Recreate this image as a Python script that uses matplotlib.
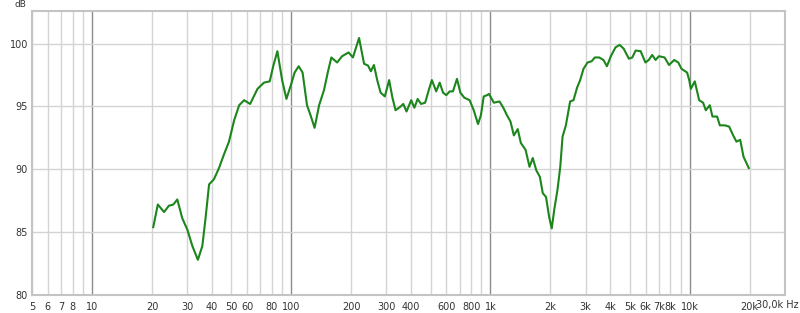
import matplotlib
matplotlib.use("Agg")
import matplotlib.pyplot as plt
import matplotlib.transforms as mtransforms
from matplotlib.ticker import FixedLocator, NullFormatter

# frequency response (Hz, dB)
freq = [
    20.3, 21.4, 23.0, 24.3, 25.6, 26.8, 28.4, 30.1, 31.9, 34.0,
    35.8, 37.2, 38.7, 40.9, 43.4, 46.0, 48.7, 51.7, 54.8, 58.0,
    62.2, 67.7, 73.0, 78.0, 81.2, 85.2, 90.0, 94.6, 99.6, 104,
    109, 114, 120, 125, 131, 138, 146, 153, 159, 170,
    180, 194, 204, 219, 232, 243, 251, 260, 271, 281,
    295, 310, 322, 334, 354, 365, 379, 400, 415, 431,
    448, 470, 490, 508, 534, 556, 578, 600, 624, 648,
    679, 706, 739, 786, 824, 866, 895, 925, 962, 982,
    1040, 1110, 1160, 1210, 1260, 1310, 1370, 1420, 1500, 1570,
    1630, 1700, 1770, 1830, 1900, 1970, 2030, 2090, 2170, 2240,
    2300, 2390, 2510, 2610, 2720, 2820, 2930, 3070, 3220, 3340,
    3510, 3690, 3840, 4020, 4240, 4450, 4660, 4950, 5150, 5350,
    5670, 5990, 6230, 6480, 6740, 7000, 7480, 7870, 8360, 8760,
    9090, 9700, 9940, 10130, 10600, 11150, 11670, 12040, 12610, 13000,
    13720, 14160, 15010, 15770, 16520, 17160, 17920, 18620, 19790,
]
spl = [
    85.4, 87.2, 86.6, 87.1, 87.2, 87.6, 86.1, 85.2, 83.9, 82.8,
    83.9, 86.2, 88.8, 89.2, 90.1, 91.2, 92.2, 93.9, 95.1, 95.5,
    95.2, 96.4, 96.9, 97.0, 98.2, 99.4, 97.1, 95.6, 96.7, 97.7,
    98.2, 97.7, 95.1, 94.3, 93.3, 95.1, 96.3, 97.8, 98.9, 98.5,
    99.0, 99.3, 98.9, 100.45, 98.4, 98.25, 97.8, 98.3, 97.0, 96.1,
    95.8, 97.1, 95.7, 94.7, 95.0, 95.2, 94.6, 95.5, 94.9, 95.6,
    95.2, 95.3, 96.3, 97.1, 96.2, 96.9, 96.1, 95.9, 96.2, 96.2,
    97.2, 96.1, 95.7, 95.5, 94.7, 93.6, 94.3, 95.8, 95.9, 96.0,
    95.3, 95.4, 94.9, 94.3, 93.8, 92.7, 93.2, 92.1, 91.55, 90.2,
    90.9, 89.9, 89.4, 88.1, 87.8, 86.2, 85.3, 86.8, 88.4, 90.2,
    92.6, 93.5, 95.4, 95.5, 96.5, 97.1, 98.0, 98.5, 98.6, 98.9,
    98.9, 98.7, 98.2, 99.0, 99.7, 99.9, 99.6, 98.8, 98.9, 99.45,
    99.4, 98.5, 98.7, 99.1, 98.7, 99.0, 98.9, 98.3, 98.7, 98.5,
    98.0, 97.7, 97.1, 96.4, 97.0, 95.5, 95.3, 94.7, 95.1, 94.2,
    94.2, 93.5, 93.5, 93.4, 92.7, 92.2, 92.35, 91.0, 90.1,
]

x_ticks = [5, 6, 7, 8, 10, 20, 30, 40, 50, 60, 80, 100, 200, 300, 400, 600,
           800, 1000, 2000, 3000, 4000, 5000, 6000, 7000, 8000, 10000, 20000]
x_labels = ["5", "6", "7", "8", "10", "20", "30", "40", "50", "60", "80",
            "100", "200", "300", "400", "600", "800", "1k", "2k", "3k", "4k",
            "5k", "6k", "7k", "8k", "10k", "20k"]
y_ticks = [80, 85, 90, 95, 100]

minor_lines = [m * 10 ** e for e in range(0, 5) for m in range(2, 10)]
minor_lines = [v for v in minor_lines if 5 <= v <= 30000]
decades = [10, 100, 1000, 10000]

fig = plt.figure(figsize=(8.0, 3.13), dpi=100)
ax = fig.add_axes([0.04, 0.0575, 0.941, 0.9075])
ax.set_xscale("log")
ax.set_xlim(5, 30000)
ax.set_ylim(80, 102.6)

for v in minor_lines:
    ax.axvline(v, color="#d4d4d4", lw=1.0, zorder=1)
for v in decades:
    ax.axvline(v, color="#8c8c8c", lw=1.0, zorder=1)
for v in y_ticks[1:]:
    ax.axhline(v, color="#d4d4d4", lw=1.0, zorder=1)

ax.plot(freq, spl, color="#1c861c", lw=1.5, zorder=3)

ax.xaxis.set_major_locator(FixedLocator(x_ticks))
ax.set_xticklabels(x_labels)
ax.xaxis.set_minor_formatter(NullFormatter())
ax.tick_params(axis="x", which="both", length=0, pad=5, labelsize=7, labelcolor="#333333")
ax.set_yticks(y_ticks)
ax.tick_params(axis="y", length=0, pad=3, labelsize=7, labelcolor="#333333")

for s in ax.spines.values():
    s.set_color("#c4c4c4")
    s.set_linewidth(1.5)

# last x label sits at the right edge, with the unit
offset = mtransforms.offset_copy(ax.get_xaxis_transform(), fig=fig, x=-7, y=-10, units="dots")
ax.text(30000, 0, "30,0k Hz", transform=offset, ha="center", va="center",
        fontsize=7, color="#333333")
fig.text(0.025, 0.985, "dB", ha="center", va="center", fontsize=6.5, color="#333333")

fig.savefig("out.png", dpi=100)
